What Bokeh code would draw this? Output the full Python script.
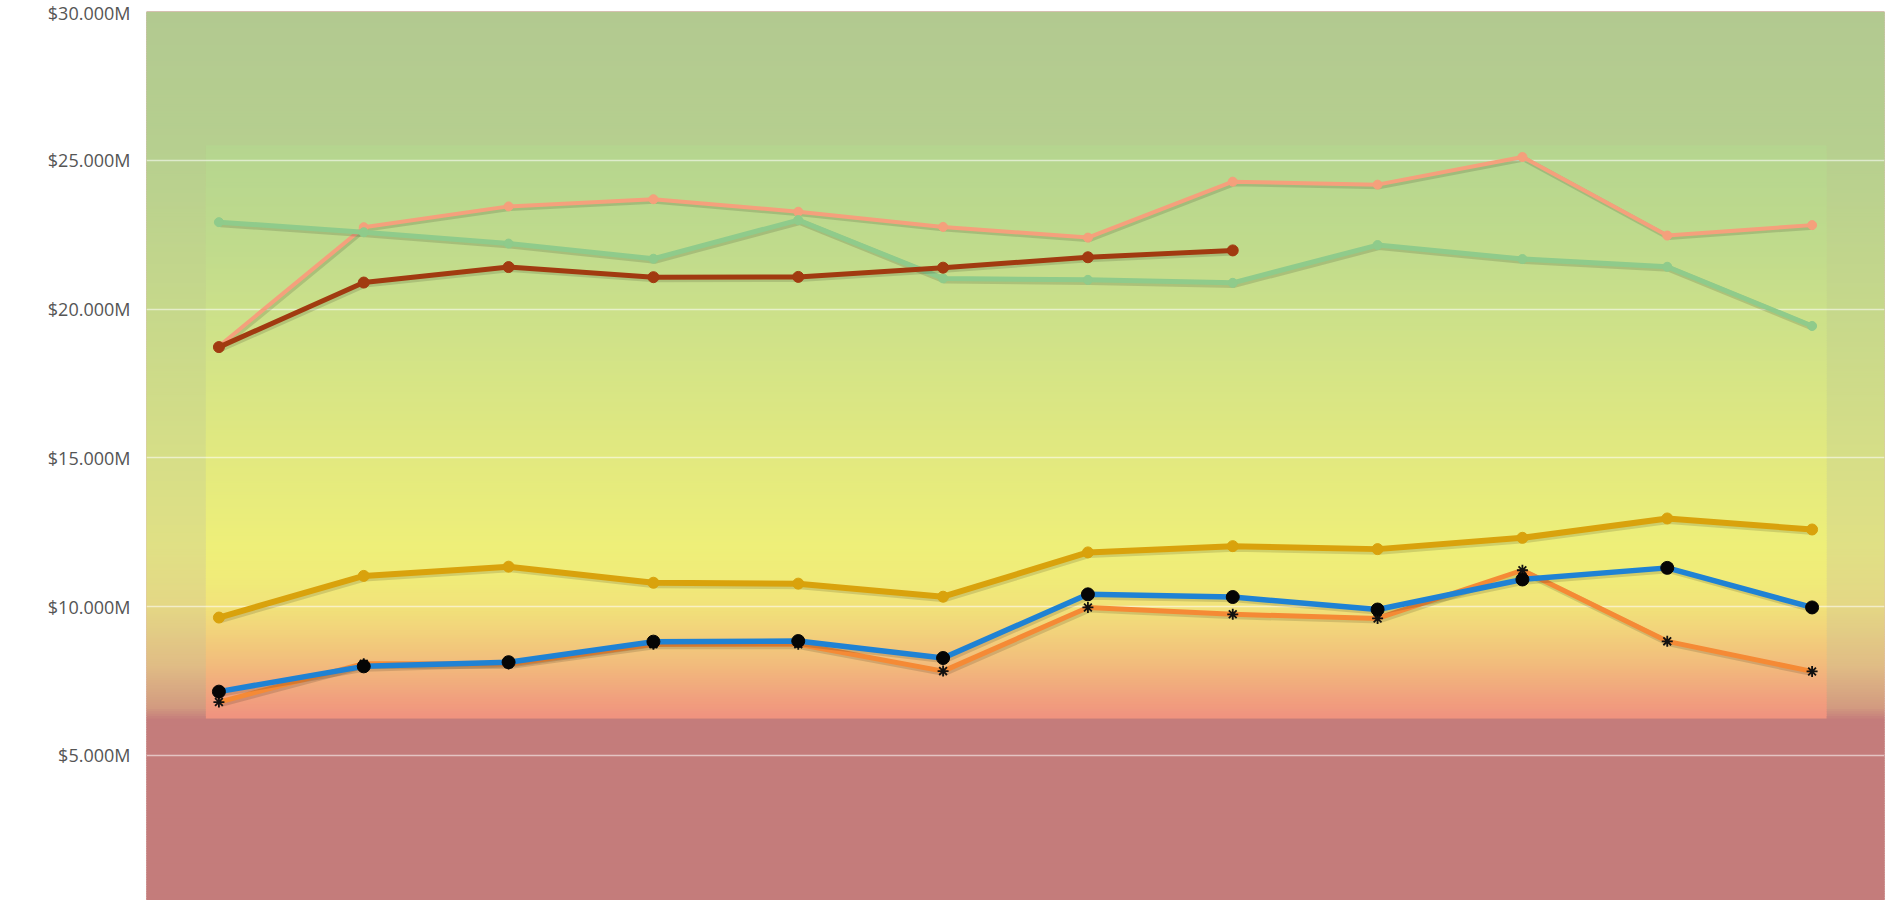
import numpy as np
from bokeh.plotting import figure
from bokeh.models import Range1d, FixedTicker, PrintfTickFormatter, ColumnDataSource
from bokeh.embed import file_html
from bokeh.resources import INLINE

# ---------------- data (values in $ millions) ----------------
periods = ["P01", "P02", "P03", "P04", "P05", "P06",
           "P07", "P08", "P09", "P10", "P11", "P12"]
y_ticks = [5, 10, 15, 20, 25, 30]

salmon_series = [18.75, 22.75, 23.45, 23.69, 23.27, 22.76, 22.40, 24.28, 24.18, 25.11, 22.47, 22.82]
green_series = [22.92, 22.58, 22.20, 21.69, 22.99, 21.03, 20.98, 20.88, 22.15, 21.68, 21.42, 19.43]
darkred_series = [18.72, 20.89, 21.41, 21.07, 21.08, 21.39, 21.74, 21.97]
gold_series = [9.63, 11.03, 11.34, 10.80, 10.77, 10.33, 11.82, 12.03, 11.93, 12.31, 12.96, 12.59]
blue_series = [7.14, 7.99, 8.13, 8.82, 8.84, 8.27, 10.41, 10.32, 9.90, 10.91, 11.30, 9.97]
orange_series = [6.79, 8.08, 8.07, 8.73, 8.73, 7.83, 9.97, 9.74, 9.60, 11.22, 8.83, 7.82]

# ---------------- styles ----------------
X_START, X_END = -0.5, len(periods) - 0.5
Y_START, Y_END = 0.12, 30.0

outer_stops = [(0.0, "#C47C7B"), (6.2, "#C47C7B"), (6.6, "#D29A80"), (8.0, "#E0BC85"),
               (10.0, "#E4D785"), (12.0, "#E0E085"), (15.0, "#D6DE87"), (20.0, "#C6D88B"),
               (25.5, "#B6CF8F"), (30.0, "#B2C990")]
inner_stops = [(6.2, "#F0917F"), (7.0, "#F1A27E"), (8.0, "#F2BA7C"), (9.0, "#F2CF7B"),
               (10.0, "#F1E27A"), (11.0, "#F0EC79"), (12.0, "#EEEF79"), (13.0, "#EAED7B"),
               (15.0, "#E2E97F"), (17.5, "#D7E585"), (20.0, "#CBE08A"), (22.0, "#C0DB8C"),
               (25.5, "#B5D58F")]
INNER_LEFT, INNER_RIGHT = -0.09, 11.1


def hex_to_rgb(h):
    h = h.lstrip("#")
    return [int(h[i:i + 2], 16) for i in (0, 2, 4)]


def gradient_bands(stops, lo, hi, step=0.08):
    pos = np.array([s[0] for s in stops])
    rgb = np.array([hex_to_rgb(s[1]) for s in stops], dtype=float)
    bottoms = np.arange(lo, hi, step)
    tops = np.minimum(bottoms + step * 1.6, hi)
    mids = bottoms + step / 2
    cols = []
    for m in mids:
        c = [int(round(np.interp(m, pos, rgb[:, k]))) for k in range(3)]
        cols.append("#%02X%02X%02X" % tuple(c))
    return bottoms, tops, cols


p = figure(width=1888, height=900, output_backend="svg", toolbar_location=None,
           x_axis_location=None,
           x_range=Range1d(X_START, X_END), y_range=Range1d(Y_START, Y_END),
           min_border_left=146, min_border_right=4, min_border_top=11, min_border_bottom=0)
p.background_fill_color = "#C47C7B"
p.border_fill_color = "white"
p.outline_line_color = None

# background gradients
b, t, c = gradient_bands(outer_stops, Y_START - 0.2, Y_END)
p.quad(left=X_START - 1, right=X_END + 1, bottom=b, top=t, fill_color=c,
       line_color=None, level="image")
b, t, c = gradient_bands(inner_stops, 6.24, 25.5)
p.quad(left=INNER_LEFT, right=INNER_RIGHT, bottom=b, top=t, fill_color=c,
       line_color=None, level="image")

# grid & axis
p.xgrid.visible = False
p.ygrid.grid_line_color = "white"
p.ygrid.grid_line_alpha = 0.55
p.ygrid.grid_line_width = 1.5
p.yaxis.ticker = FixedTicker(ticks=y_ticks)
p.yaxis.formatter = PrintfTickFormatter(format="$%.3fM")
p.yaxis.axis_line_color = None
p.yaxis.major_tick_line_color = None
p.yaxis.minor_tick_line_color = None
p.yaxis.major_tick_out = 0
p.yaxis.major_label_standoff = 16
p.yaxis.major_label_text_font = "Open Sans"
p.yaxis.major_label_text_font_size = "18px"
p.yaxis.major_label_text_color = "#555555"

SDX, SDY = 0.01, -0.06


def draw(values, color, width, marker, msize, mcolor, mline=1.0):
    xs = list(range(len(values)))
    src = ColumnDataSource(dict(x=xs, y=values,
                                sx=[v + SDX for v in xs], sy=[v + SDY for v in values]))
    p.line("sx", "sy", source=src, line_color="black", line_alpha=0.13, line_width=width + 1.5)
    p.line("x", "y", source=src, line_color=color, line_width=width, line_join="round")
    if marker == "asterisk":
        p.scatter("x", "y", source=src, marker="asterisk", size=msize,
                  line_color=mcolor, line_width=mline)
    else:
        p.scatter("x", "y", source=src, marker=marker, size=msize,
                  fill_color=mcolor, line_color=mcolor)


draw(salmon_series, "#F5A07C", 4, "circle", 9, "#F5A07C")
draw(green_series, "#8FCB8B", 5, "circle", 9, "#8FCB8B")
draw(darkred_series, "#A13A10", 5, "circle", 11, "#A13A10")
draw(gold_series, "#D9A20C", 6, "circle", 11, "#D9A20C")
draw(orange_series, "#F58A35", 5, "asterisk", 11, "#111111", 1.8)
draw(blue_series, "#1F82D4", 5.5, "circle", 13, "#050505")

open("out.html", "w").write(file_html(p, INLINE))
